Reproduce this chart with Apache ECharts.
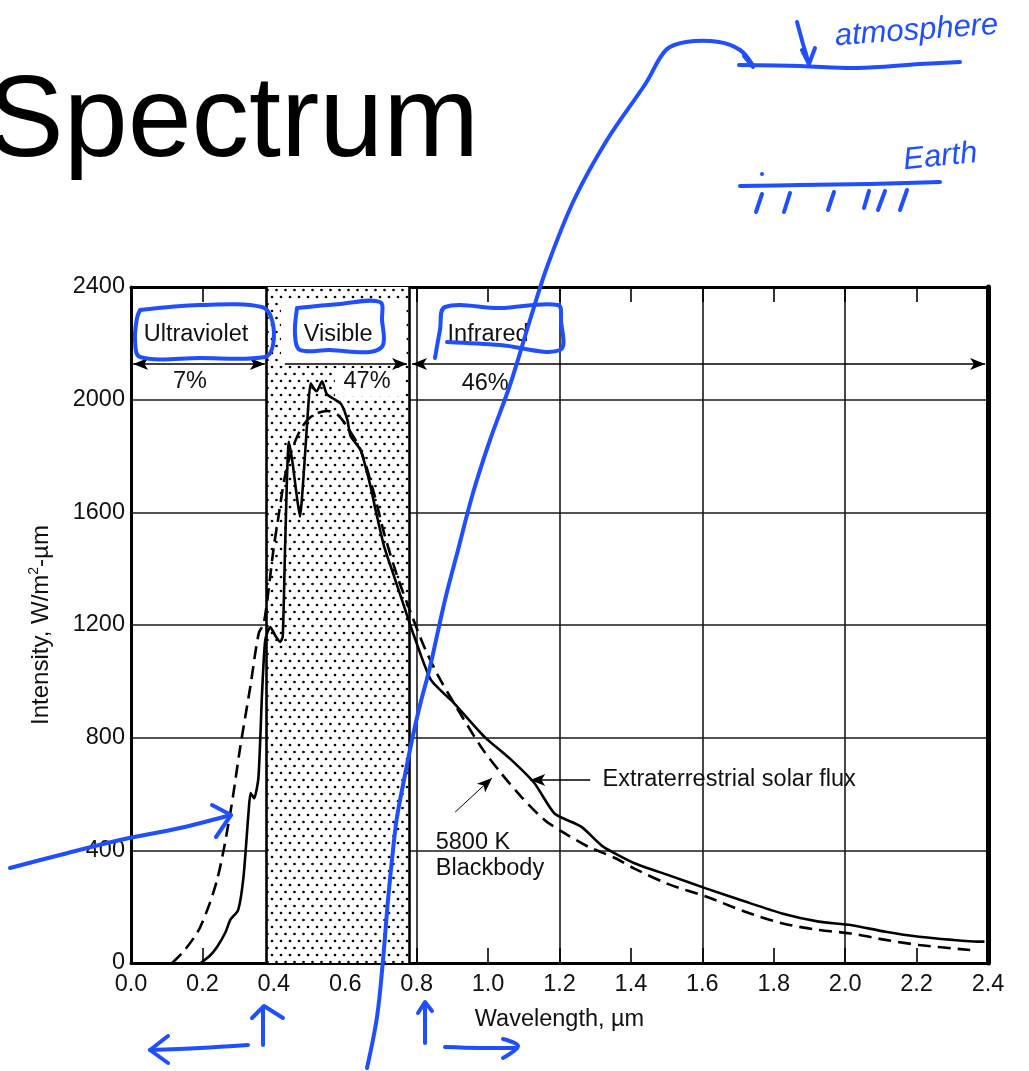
<!DOCTYPE html>
<html>
<head>
<meta charset="utf-8">
<script src="https://cdn.jsdelivr.net/npm/echarts/dist/echarts.min.js"></script>
<style>
  html, body { margin: 0; padding: 0; background: #fff; }
  #chart { width: 1029px; height: 1071px; }
</style>
</head>
<body>
<div id="chart"></div>
<script>
// Extraterrestrial solar flux (solid curve)
const fluxWavelength = [0.195, 0.22, 0.241, 0.265, 0.278, 0.30, 0.315, 0.329, 0.335, 0.345, 0.357, 0.367, 0.376, 0.39, 0.405, 0.418, 0.425, 0.432, 0.442, 0.452, 0.462, 0.473, 0.485, 0.495, 0.503, 0.512, 0.52, 0.535, 0.548, 0.565, 0.588, 0.606, 0.615, 0.643, 0.671, 0.685, 0.709, 0.737, 0.765, 0.793, 0.84, 0.905, 0.99, 1.065, 1.13, 1.186, 1.261, 1.32, 1.41, 1.505, 1.61, 1.72, 1.823, 1.926, 2.015, 2.113, 2.207, 2.3, 2.37, 2.39];
const fluxIntensity  = [0, 25, 57, 110, 153, 188, 305, 532, 603, 585, 660, 958, 1147, 1193, 1160, 1140, 1160, 1500, 1850, 1780, 1680, 1585, 1760, 1950, 2058, 2040, 2030, 2065, 2020, 2005, 1985, 1928, 1870, 1821, 1691, 1608, 1478, 1372, 1265, 1160, 1005, 922, 803, 721, 638, 531, 484, 415, 354, 312, 265, 218, 176, 147, 135, 111, 93, 82, 76, 76];

// 5800 K blackbody (dashed curve)
const bbWavelength = [0.115, 0.15, 0.194, 0.241, 0.278, 0.306, 0.334, 0.358, 0.372, 0.40, 0.41, 0.43, 0.45, 0.48, 0.51, 0.55, 0.58, 0.61, 0.643, 0.68, 0.709, 0.746, 0.784, 0.821, 0.86, 0.905, 0.98, 1.037, 1.093, 1.158, 1.214, 1.28, 1.32, 1.36, 1.41, 1.505, 1.61, 1.72, 1.823, 1.926, 2.015, 2.113, 2.207, 2.35];
const bbIntensity  = [0, 45, 128, 295, 532, 767, 980, 1172, 1205, 1478, 1560, 1720, 1820, 1905, 1945, 1960, 1945, 1895, 1821, 1670, 1525, 1372, 1242, 1123, 1020, 922, 768, 673, 590, 508, 461, 413, 392, 370, 335, 280, 236, 182, 141, 117, 105, 82, 64, 46];

// Spectral bands and their share of the solar energy
const bandNames  = ['Ultraviolet', 'Visible', 'Infrared'];
const bandShares = ['7%', '47%', '46%'];
const bandEdges  = [0.38, 0.78];   // µm

// Axes
const xRange = [0, 2.4];
const yRange = [0, 2400];
const xTickStep = 0.2;
const xGridStep = 0.4;
const yTickStep = 400;

const FONT = '"Liberation Sans", Arial, sans-serif';
const FS = 23.5;
const INK = '#111';
const BLUE = '#1f4fff';

const pairs = (xs, ys) => xs.map((x, i) => [x, ys[i]]);

// dotted fill for the visible band
const dots = document.createElement('canvas');
dots.width = 9; dots.height = 14;
{
  const c = dots.getContext('2d');
  c.fillStyle = '#fff'; c.fillRect(0, 0, 9, 14);
  c.fillStyle = '#000';
  c.beginPath(); c.arc(2, 3, 1.35, 0, Math.PI * 2); c.fill();
  c.beginPath(); c.arc(6.5, 10, 1.35, 0, Math.PI * 2); c.fill();
}

const chart = echarts.init(document.getElementById('chart'), null, { renderer: 'canvas' });

const textLabel = (name, coord, extra) => Object.assign({
  name, coord,
  label: { show: true, position: 'inside', formatter: '{b}', fontFamily: FONT, fontSize: FS, color: INK }
}, extra || {});

const arrowLine = (from, to, startSym, endSym, w) => [
  { coord: from, symbol: startSym, lineStyle: { width: w || 1.6 } },
  { coord: to, symbol: endSym }
];

// blue pen strokes
const pen = (points, extra) => Object.assign({
  type: 'polyline', z: 100, silent: true,
  shape: { points, smooth: 0.35 },
  style: { stroke: BLUE, lineWidth: 4, fill: null, lineCap: 'round', lineJoin: 'round' }
}, extra || {});
const sharp = points => pen(points, { shape: { points, smooth: 0 } });

const option = {
  backgroundColor: '#fff',
  animation: false,
  title: {
    text: 'Spectrum', left: -18, top: 62,
    textStyle: { fontFamily: FONT, fontSize: 115, fontWeight: 'normal', color: '#000' }
  },
  grid: { left: 131, right: 41, top: 287, bottom: 108, containLabel: false, outerBoundsMode: 'none' },
  xAxis: [
    {
      type: 'value', position: 'bottom', min: xRange[0], max: xRange[1], interval: xTickStep,
      name: 'Wavelength, µm', nameLocation: 'middle', nameGap: 45,
      nameTextStyle: { fontFamily: FONT, fontSize: FS, color: INK },
      axisLine: { show: true, onZero: false, lineStyle: { color: '#000', width: 3 } },
      axisTick: { show: true, inside: true, length: 15, lineStyle: { color: '#000', width: 1.6 } },
      axisLabel: { fontFamily: FONT, fontSize: FS, color: INK, margin: 10, formatter: v => v.toFixed(1) },
      splitLine: { show: false }
    },
    {
      type: 'value', position: 'top', min: xRange[0], max: xRange[1], interval: xGridStep,
      axisLine: { show: true, onZero: false, lineStyle: { color: '#000', width: 3 } },
      axisTick: { show: true, inside: true, length: 15, lineStyle: { color: '#000', width: 1.6 } },
      minorTick: { show: true, splitNumber: 2, length: 15, lineStyle: { color: '#000', width: 1.6 } },
      axisLabel: { show: false },
      splitLine: { show: true, lineStyle: { color: '#1a1a1a', width: 1.6 } }
    }
  ],
  yAxis: [
    {
      type: 'value', position: 'left', min: yRange[0], max: yRange[1], interval: yTickStep,
      name: '{a|Intensity, W/m}{s|2}{a|-µm}', nameLocation: 'middle', nameGap: 76,
      nameTextStyle: {
        color: INK,
        rich: {
          a: { fontFamily: FONT, fontSize: 24, lineHeight: 28, color: INK },
          s: { fontFamily: FONT, fontSize: 14, lineHeight: 15, verticalAlign: 'top', color: INK }
        }
      },
      axisLine: { show: true, onZero: false, lineStyle: { color: '#000', width: 3 } },
      axisTick: { show: false },
      axisLabel: { fontFamily: FONT, fontSize: FS, color: INK, margin: 6, formatter: v => String(v) },
      splitLine: { show: true, lineStyle: { color: '#1a1a1a', width: 1.6 } }
    },
    {
      type: 'value', position: 'right', min: yRange[0], max: yRange[1], interval: yTickStep,
      axisLine: { show: true, onZero: false, lineStyle: { color: '#000', width: 5 } },
      axisTick: { show: false }, axisLabel: { show: false }, splitLine: { show: false }
    }
  ],
  series: [
    {
      // visible band shading
      name: 'bands', type: 'line', data: [], z: 1, silent: true,
      markArea: {
        silent: true,
        itemStyle: { color: { image: dots, repeat: 'repeat' } },
        data: [[{ xAxis: bandEdges[0], yAxis: yRange[0] }, { xAxis: bandEdges[1], yAxis: yRange[1] }]]
      }
    },
    {
      // clear space behind the visible captions, plus the band edges
      name: 'captionBackdrop', type: 'line', data: [], z: 2, silent: true,
      markArea: {
        silent: true,
        itemStyle: { color: '#fff' },
        data: [
          [{ xAxis: 0.42, yAxis: 2120 }, { xAxis: 0.772, yAxis: 2345 }],
          [{ xAxis: 0.571, yAxis: 2013 }, { xAxis: 0.768, yAxis: 2112 }]
        ]
      },
      markLine: {
        silent: true, symbol: 'none', label: { show: false },
        lineStyle: { type: 'solid', color: '#000', width: 2.6 },
        data: bandEdges.map(v => ({ xAxis: v }))
      }
    },
    {
      name: 'captions', type: 'line', data: [], z: 5, silent: true,
      markLine: {
        silent: true, label: { show: false }, symbolSize: [9, 15],
        lineStyle: { type: 'solid', color: '#000', width: 1.6 },
        data: [
          arrowLine([0.006, 2127], [0.375, 2127], 'arrow', 'arrow'),
          arrowLine([0.431, 2127], [0.773, 2127], 'none', 'arrow'),
          arrowLine([0.787, 2127], [2.392, 2127], 'arrow', 'arrow'),
          arrowLine([1.286, 650], [1.118, 650], 'none', 'arrow'),
          arrowLine([0.908, 536], [1.011, 657], 'none', 'arrow', 1)
        ]
      },
      markPoint: {
        silent: true, symbol: 'circle', symbolSize: 1,
        itemStyle: { color: 'rgba(0,0,0,0)' },
        data: [
          textLabel(bandNames[0], [0.182, 2230]),
          textLabel(bandNames[1], [0.58, 2230]),
          textLabel(bandNames[2], [1.0, 2230]),
          textLabel(bandShares[0], [0.165, 2066]),
          textLabel(bandShares[1], [0.661, 2063]),
          textLabel(bandShares[2], [0.992, 2059]),
          textLabel('Extraterrestrial solar flux', [1.319, 653], {
            label: { show: true, position: 'right', distance: 0, formatter: '{b}', fontFamily: FONT, fontSize: FS, color: INK }
          }),
          textLabel('5800 K\nBlackbody', [0.852, 383], {
            label: { show: true, position: 'right', distance: 0, formatter: '{b}', fontFamily: FONT, fontSize: FS, lineHeight: 26, color: INK, align: 'left' }
          })
        ]
      }
    },
    {
      name: '5800 K Blackbody', type: 'line', z: 6,
      data: pairs(bbWavelength, bbIntensity),
      smooth: 0.3, showSymbol: false, symbol: 'none',
      lineStyle: { color: '#000', width: 2.6, type: [13, 7] }
    },
    {
      name: 'Extraterrestrial solar flux', type: 'line', z: 7,
      data: pairs(fluxWavelength, fluxIntensity),
      smooth: 0.2, showSymbol: false, symbol: 'none',
      lineStyle: { color: '#000', width: 2.6 }
    }
  ],
  graphic: [
    // long pen stroke rising to the atmosphere sketch
    pen([[367,1068],[377,1017],[383,960],[388,900],[393,850],[397,817],[404,780],[412,740],[420,705],[430,667],[445,600],[458,550],[473,493],[490,440],[510,385],[530,320],[547,267],[574,200],[607,140],[646,83],[666,50],[686,42],[719,42],[740,50],[752,64]]),
    pen([[744,56],[753,67]]),
    pen([[739,65],[800,66],[857,68],[920,64],[960,62]]),
    sharp([[797,22],[803,44],[809,64]]),
    sharp([[802,50],[809,64],[815,48]]),
    {
      type: 'text', z: 100, silent: true, x: 836, y: 52, rotation: 0.07,
      style: { text: 'atmosphere', font: 'italic 31px "Liberation Sans Narrow", "Liberation Sans", sans-serif', fill: BLUE, verticalAlign: 'bottom' }
    },
    {
      type: 'text', z: 100, silent: true, x: 905, y: 176, rotation: 0.1,
      style: { text: 'Earth', font: 'italic 31px "Liberation Sans Narrow", "Liberation Sans", sans-serif', fill: BLUE, verticalAlign: 'bottom' }
    },
    pen([[740,186],[800,185],[870,184],[940,182]]),
    pen([[762,194],[756,212]]), pen([[790,193],[784,212]]), pen([[834,192],[828,210]]),
    pen([[869,191],[864,208]]), pen([[885,191],[878,210]]), pen([[907,190],[900,210]]),
    { type: 'circle', z: 100, silent: true, shape: { cx: 762, cy: 174, r: 2 }, style: { fill: BLUE } },
    // boxes round the band names
    pen([[140,310],[200,305],[262,307],[272,320],[273,345],[265,357],[200,358],[140,357],[135,340],[137,318],[140,310]]),
    pen([[297,308],[340,304],[380,302],[382,320],[383,345],[370,352],[330,350],[300,350],[295,335],[297,308]]),
    pen([[447,342],[500,345],[560,350],[561,320],[558,305],[500,308],[445,307],[440,330],[435,358]]),
    // arrow onto the ultraviolet tail
    pen([[10,868],[60,855],[120,840],[180,828],[231,815]]),
    sharp([[212,805],[231,815],[216,837]]),
    // arrows under the wavelength axis
    pen([[248,1045],[200,1048],[150,1050]]),
    sharp([[168,1036],[150,1050],[168,1063]]),
    pen([[263,1045],[263,1007]]),
    sharp([[252,1018],[264,1006],[283,1018]]),
    pen([[425,1043],[425,1003]]),
    sharp([[418,1013],[425,1002],[432,1011]]),
    pen([[445,1047],[480,1048],[517,1048]]),
    pen([[503,1039],[518,1046],[503,1058]])
  ]
};

chart.setOption(option);
</script>
</body>
</html>
